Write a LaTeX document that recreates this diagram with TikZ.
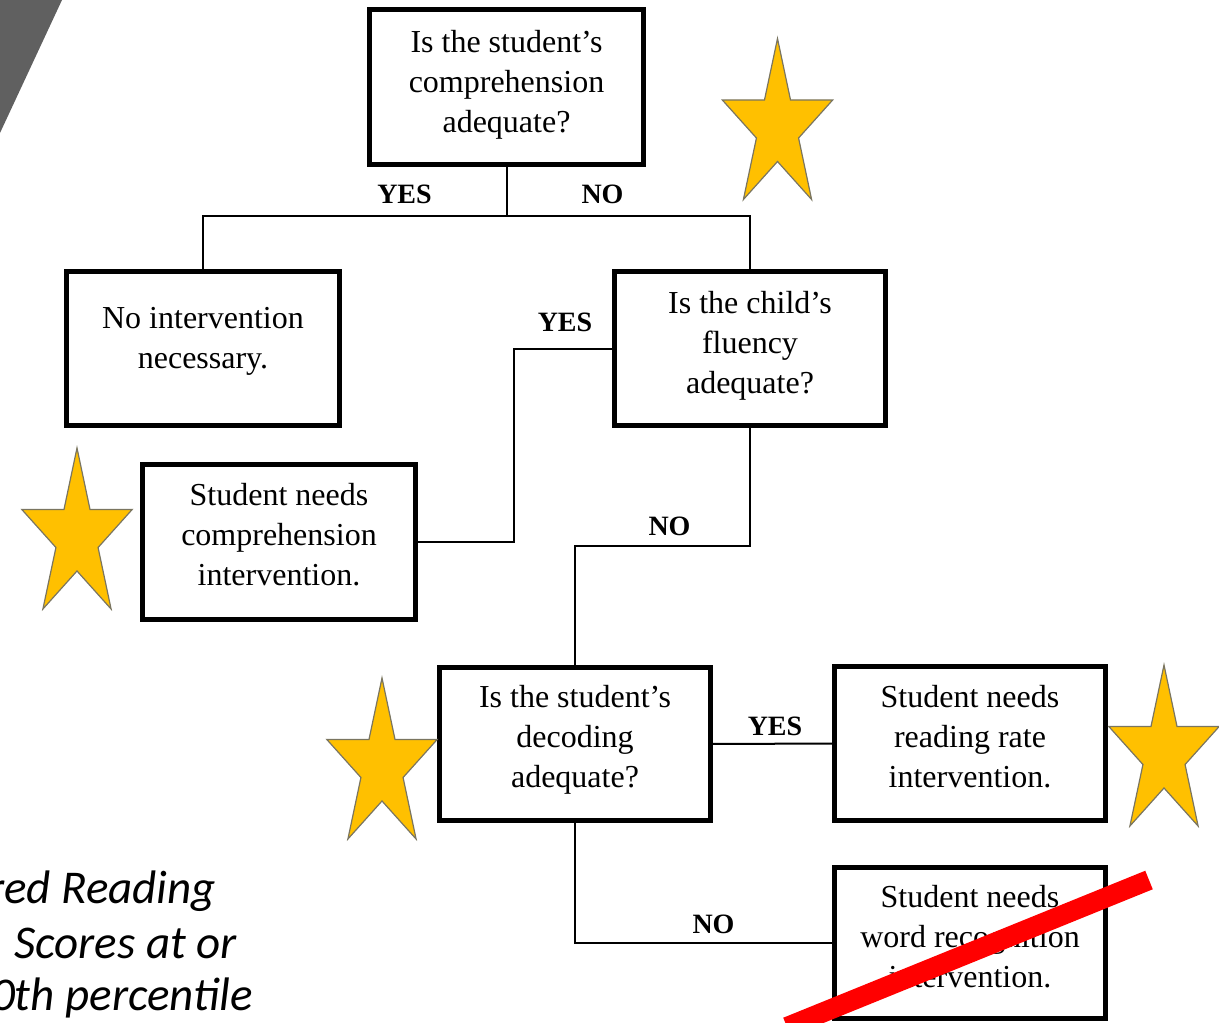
\documentclass[tikz,border=0pt]{standalone}
\usepackage{fontspec}
\setmainfont{Liberation Serif}
\newfontfamily\calfont{Carlito}
\definecolor{stargold}{HTML}{FFC000}
\definecolor{staredge}{HTML}{7A7560}
\definecolor{cornergray}{HTML}{606060}
\definecolor{strikered}{HTML}{FF0000}
\tikzset{
  boxsty/.style={draw=black, line width=4.5pt, rectangle, inner sep=0pt, outer sep=0pt, fill=white},
  txtsty/.style={inner sep=0pt, outer sep=0pt, align=center, font=\fontsize{32}{40}\selectfont},
  lblsty/.style={inner sep=0pt, outer sep=0pt, anchor=base, font=\fontsize{28}{30}\selectfont\bfseries},
  linesty/.style={draw=black, line width=2pt},
  starsty/.style={fill=stargold, draw=staredge, line width=1.2pt, line join=miter},
  notesty/.style={inner sep=0pt, outer sep=0pt, anchor=base east, font=\calfont\itshape\fontsize{47}{52}\selectfont},
  gstar/.pic={\filldraw[starsty] (-90:1) -- (-54:0.382) -- (-18:1) -- (18:0.382) -- (54:1) -- (90:0.382) -- (126:1) -- (162:0.382) -- (198:1) -- (234:0.382) -- cycle;}
}
\begin{document}
\begin{tikzpicture}[x=1pt, y=-1pt]
\useasboundingbox (0,0) rectangle (1219,1023);
% corner decoration
\fill[cornergray] (0,0) -- (62,0) -- (0,133) -- cycle;

% boxes
\node[boxsty, minimum width=274pt, minimum height=155pt] (q1) at (506.5,87) {};
\node[boxsty, minimum width=273pt, minimum height=154pt] (noint) at (203,348.5) {};
\node[boxsty, minimum width=271pt, minimum height=154pt] (flu) at (750,348.5) {};
\node[boxsty, minimum width=273pt, minimum height=155pt] (compint) at (279,542) {};
\node[boxsty, minimum width=271pt, minimum height=153pt] (dec) at (575,744) {};
\node[boxsty, minimum width=271pt, minimum height=154pt] (rate) at (970,743.5) {};
\node[boxsty, minimum width=271pt, minimum height=151pt] (word) at (970,943) {};

% box texts
\node[txtsty, anchor=north] (q1t) at ([yshift=-21pt]q1.north) {Is the student’s\\comprehension\\adequate?};
\node[txtsty, anchor=north] (nointt) at ([yshift=-36pt]noint.north) {No intervention\\necessary.};
\node[txtsty, anchor=north] (flut) at ([yshift=-20pt]flu.north) {Is the child’s\\fluency\\adequate?};
\node[txtsty, anchor=north] (compintt) at ([yshift=-19pt]compint.north) {Student needs\\comprehension\\intervention.};
\node[txtsty, anchor=north] (dect) at ([yshift=-18pt]dec.north) {Is the student’s\\decoding\\adequate?};
\node[txtsty, anchor=north] (ratet) at ([yshift=-19pt]rate.north) {Student needs\\reading rate\\intervention.};
\node[txtsty, anchor=north] (wordt) at ([yshift=-18pt]word.north) {Student needs\\word recognition\\intervention.};

% junctions
\coordinate (j1) at (506.5,216);
\coordinate (j2) at (514,348.5);
\coordinate (j3) at (750,546);

% connectors
\draw[linesty] (q1.south) -- (j1);
\draw[linesty] (noint.north) |- (j1) -| (flu.north);
\draw[linesty] (flu.west) -- (j2) |- (compint.east);
\draw[linesty] (flu.south) -- (j3) -| (dec.north);
\draw[linesty] (dec.east) -- (rate.west);
\draw[linesty] (dec.south) |- (word.west);

% labels
\node[lblsty] (l1) at (404.5,203) {YES};
\node[lblsty] (l2) at (602.5,203) {NO};
\node[lblsty] (l3) at (565,331) {YES};
\node[lblsty] (l4) at (669.5,535) {NO};
\node[lblsty] (l5) at (775,735) {YES};
\node[lblsty] (l6) at (713.5,933) {NO};

% stars
\pic[xscale=58, yscale=89] at (777.5,127.5) {gstar};
\pic[xscale=58, yscale=89] at (77,537) {gstar};
\pic[xscale=58, yscale=89] at (382,767) {gstar};
\pic[xscale=58, yscale=89] at (1164,754) {gstar};

% strike line
\draw[strikered, line width=20pt] (787,1027) -- (1149,880);

% side note (partially outside the page)
\node[notesty] (n1) at (216,903) {red Reading};
\node[notesty] (n2) at (237,958) {Scores at or};
\node[notesty] (n3) at (253,1010) {0th percentile};
\end{tikzpicture}
\end{document}
